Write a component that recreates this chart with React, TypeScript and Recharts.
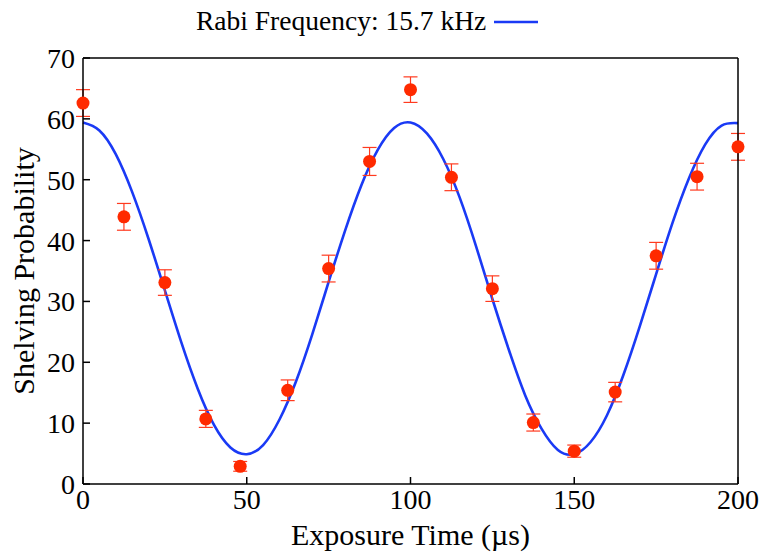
import {
  ComposedChart,
  ErrorBar,
  Legend,
  Line,
  Scatter,
  XAxis,
  YAxis,
} from "recharts";

// measured shelving probability (%) vs exposure time (µs)
const pointTimes = [0, 12.5, 25, 37.5, 48, 62.5, 75, 87.5, 100, 112.5, 125, 137.5, 150, 162.5, 175, 187.5, 200];
const pointValues = [62.6, 43.9, 33.1, 10.7, 2.9, 15.4, 35.4, 53.0, 64.8, 50.4, 32.1, 10.1, 5.4, 15.1, 37.5, 50.5, 55.4];
const pointErrors = [2.2, 2.2, 2.1, 1.4, 0.8, 1.7, 2.2, 2.3, 2.1, 2.2, 2.1, 1.4, 1.0, 1.6, 2.2, 2.2, 2.2];

// fitted curve, every 5 µs
const curveTimes = [
  0, 5, 10, 15, 20, 25, 30, 35, 40, 45, 50, 55, 60, 65, 70, 75, 80, 85, 90, 95, 100,
  105, 110, 115, 120, 125, 130, 135, 140, 145, 150, 155, 160, 165, 170, 175, 180, 185, 190, 195, 200,
];
const curveValues = [
  59.4, 58.1, 54.2, 48.0, 40.3, 31.8, 23.3, 15.7, 9.7, 6.0, 4.9, 6.4, 10.6, 16.8, 24.6, 33.2, 41.6, 49.1, 54.9, 58.5, 59.4,
  57.6, 53.4, 47.1, 39.1, 30.4, 22.1, 14.6, 9.1, 5.6, 4.9, 6.9, 11.3, 17.9, 25.9, 34.5, 42.9, 50.2, 55.8, 58.9, 59.3,
];

const xTicks = [0, 50, 100, 150, 200];
const yTicks = [0, 10, 20, 30, 40, 50, 60, 70];

const fitLabel = "Rabi Frequency: 15.7 kHz";
const xTitle = "Exposure Time (µs)";
const yTitle = "Shelving Probability";

const points = pointTimes.map((x, i) => ({ x, y: pointValues[i], err: pointErrors[i] }));
const curve = curveTimes.map((x, i) => ({ x, y: curveValues[i] }));

const FONT = "'Liberation Serif', 'Times New Roman', serif";
const BLUE = "#1a3af5";
const RED = "#ff2a00";
const TICK = { fontSize: 28, fill: "#000", fontFamily: FONT };

function Dot(props: any) {
  const { cx, cy } = props;
  if (cx == null || cy == null) return null;
  return <circle cx={cx} cy={cy} r={6.5} fill={RED} />;
}

function LegendBox() {
  return (
    <div style={{ display: "flex", alignItems: "center", fontFamily: FONT, fontSize: 27.5, color: "#000", lineHeight: "34px" }}>
      <span>{fitLabel}</span>
      <svg width={52} height={20} style={{ marginLeft: 8 }}>
        <line x1={0} y1={11} x2={44} y2={11} stroke={BLUE} strokeWidth={2.6} />
      </svg>
    </div>
  );
}

export default function App() {
  return (
    <div style={{ position: "absolute", left: 0, top: 0, width: 765, height: 552, background: "#fff" }}>
      <ComposedChart width={765} height={552} margin={{ top: 57, right: 26, bottom: 0, left: 0 }}>
        <XAxis
          dataKey="x"
          type="number"
          domain={[0, 200]}
          ticks={xTicks}
          tick={TICK}
          tickSize={-7}
          tickMargin={12}
          height={68}
          axisLine={{ stroke: "#000", strokeWidth: 1.5 }}
          tickLine={{ stroke: "#000", strokeWidth: 1.5 }}
          label={(p: any) => {
            const vb = p.viewBox;
            return (
              <text x={vb.x + vb.width / 2} y={vb.y + vb.height - 7} textAnchor="middle" fontSize={30} fontFamily={FONT} fill="#000">
                {xTitle}
              </text>
            );
          }}
        />
        <XAxis
          xAxisId="top"
          dataKey="x"
          type="number"
          orientation="top"
          domain={[0, 200]}
          ticks={xTicks}
          tick={false}
          tickSize={-7}
          height={1}
          axisLine={{ stroke: "#000", strokeWidth: 1.5 }}
          tickLine={{ stroke: "#000", strokeWidth: 1.5 }}
        />
        <YAxis
          yAxisId="left"
          type="number"
          domain={[0, 70]}
          ticks={yTicks}
          tick={TICK}
          tickSize={-7}
          tickMargin={15}
          width={83}
          axisLine={{ stroke: "#000", strokeWidth: 1.5 }}
          tickLine={{ stroke: "#000", strokeWidth: 1.5 }}
          label={(p: any) => {
            const vb = p.viewBox;
            const cx = vb.x + 34;
            const cy = vb.y + vb.height / 2;
            return (
              <text x={cx} y={cy} transform={`rotate(-90, ${cx}, ${cy})`} textAnchor="middle" fontSize={30} fontFamily={FONT} fill="#000">
                {yTitle}
              </text>
            );
          }}
        />
        <YAxis
          yAxisId="right"
          orientation="right"
          type="number"
          domain={[0, 70]}
          ticks={yTicks}
          tick={false}
          tickSize={-7}
          width={1}
          axisLine={{ stroke: "#000", strokeWidth: 1.5 }}
          tickLine={{ stroke: "#000", strokeWidth: 1.5 }}
        />
        <Legend
          layout="horizontal"
          verticalAlign="middle"
          align="center"
          wrapperStyle={{ top: 4, left: 196, width: 380 }}
          content={() => <LegendBox />}
        />
        <Line
          yAxisId="left"
          data={curve}
          dataKey="y"
          name={fitLabel}
          type="natural"
          stroke={BLUE}
          strokeWidth={2.6}
          dot={false}
          activeDot={false}
          isAnimationActive={false}
        />
        <Scatter
          yAxisId="left"
          data={points}
          dataKey="y"
          legendType="none"
          shape={<Dot />}
          isAnimationActive={false}
        >
          <ErrorBar dataKey="err" direction="y" width={7} stroke="#ff3a1f" strokeWidth={1.2} />
        </Scatter>
      </ComposedChart>
    </div>
  );
}
